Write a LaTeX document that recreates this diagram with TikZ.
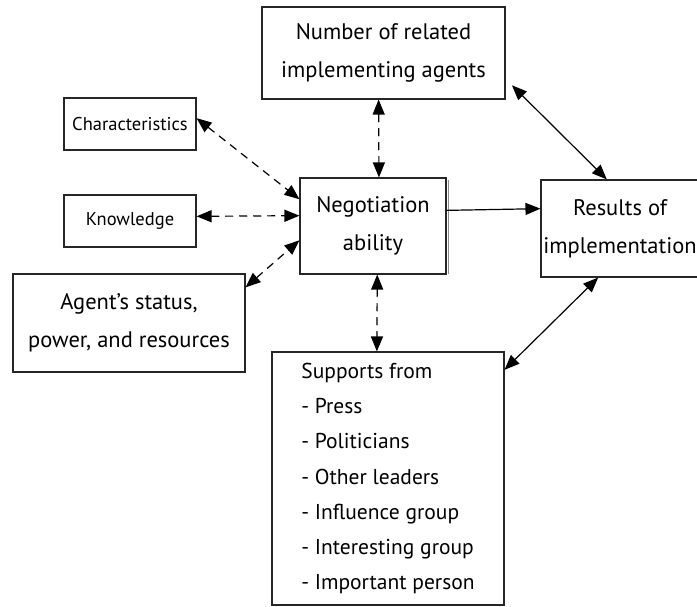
\documentclass[tikz,border=0pt]{standalone}
\usepackage{fontspec}
\setmainfont{PT Sans}
\usetikzlibrary{arrows.meta,calc}
\begin{document}
\begin{tikzpicture}[x=1pt,y=-1pt,
  box/.style={draw=black!85, line width=1.1pt, inner sep=0pt, align=center},
  bigtext/.style={font=\fontsize{22.5}{38}\selectfont},
  smalltext/.style={font=\fontsize{18.5}{20}\selectfont},
  link/.style={line width=1.2pt, {Triangle[length=15pt,width=12pt]}-{Triangle[length=15pt,width=12pt]}},
  dlink/.style={link, dash pattern=on 8pt off 6pt},
  oneway/.style={line width=1.2pt, -{Triangle[length=15pt,width=12pt]}}]
\useasboundingbox (0,0) rectangle (697,607);
% boxes
\node[box, bigtext, minimum width=243, minimum height=92] (top) at (383.5,53)
  {Number of related\\implementing agents};
\node[box, bigtext, minimum width=146, minimum height=96] (neg) at (373,226)
  {Negotiation\\ability};
\node[box, bigtext, minimum width=158, minimum height=97] (res) at (620,228.5)
  {Results of\\implementation};
\node[box, smalltext, minimum width=132, minimum height=52] (char) at (130,124)
  {Characteristics};
\node[box, smalltext, minimum width=132, minimum height=52] (know) at (130,221)
  {Knowledge};
\node[box, bigtext, minimum width=232, minimum height=98] (agent) at (129,323)
  {Agent’s status,\\power, and resources};
\node[box, font=\fontsize{21.5}{35.2}\selectfont, align=left, minimum width=232, minimum height=253] (sup) at (388,478.5)
  {Supports from\\- Press\\- Politicians\\- Other leaders\\- Influence group\\- Interesting group\\- Important person};
% thin shadow along the right side of the central box
\draw[black!45, line width=1.2pt] ($(neg.north east)+(2,3)$) -- ($(neg.south east)+(2,-1)$);
% connectors
\draw[dlink] (char.5) -- (neg.160);
\draw[dlink] (know.4) -- (neg.172);
\draw[dlink] (agent.17) -- (neg.191);
\draw[dlink] (top.264) -- (neg.83);
\draw[dlink] (neg.275) -- (sup.95);
\draw[oneway] (neg.12.4) -- (res.166.8);
\draw[link, shorten <=9pt] (top.348) -- (res.105);
\draw[link] (sup.43) -- (res.246);
\end{tikzpicture}
\end{document}
